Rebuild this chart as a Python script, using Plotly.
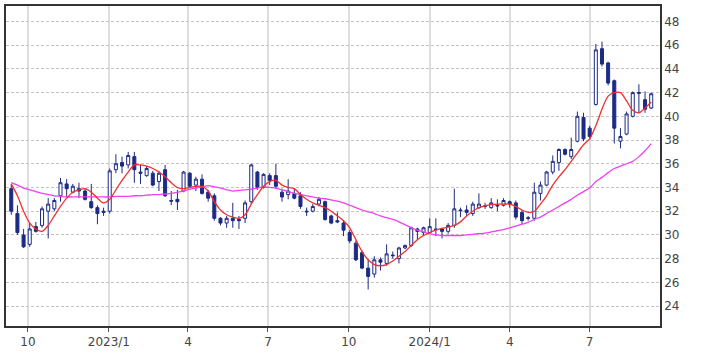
import plotly.graph_objects as go
import pandas as pd

# weekly candles (week start dates)
dates = pd.date_range('2022-09-12', periods=105, freq='7D')

opens = [33.9, 31.8, 30.0, 29.2, 30.7, 30.8, 32.0, 32.2, 33.3, 34.3,
         33.6, 33.9, 33.7, 32.8, 32.3, 32.0, 32.0, 35.5, 36.1, 35.9,
         36.6, 35.3, 35.0, 35.2, 34.5, 35.5, 32.9, 33.0, 33.7, 35.2,
         34.2, 34.7, 33.6, 33.3, 31.4, 31.0, 31.4, 31.3, 31.4, 32.8,
         35.3, 34.0, 35.0, 35.0, 33.6, 33.4, 33.5, 33.3, 32.0, 32.0,
         32.6, 32.8, 31.6, 31.2, 31.0, 30.2, 29.3, 28.5, 27.2, 26.7,
         27.9, 27.6, 28.3, 28.0, 28.9, 29.1, 30.5, 30.2, 30.2, 30.5,
         30.5, 30.3, 30.8, 32.1, 32.1, 31.8, 32.3, 32.45, 32.3, 32.5,
         32.5, 32.8, 32.7, 31.9, 31.45, 31.4, 33.5, 34.2, 35.3, 36.1,
         37.2, 36.6, 37.9, 39.9, 39.0, 41.0, 45.7, 44.5, 43.0, 37.9,
         38.5, 40.0, 42.0, 41.4, 40.7]
highs = [34.3, 32.5, 30.5, 31.0, 31.1, 32.4, 33.1, 33.1, 34.8, 34.7,
         34.3, 34.4, 33.9, 34.3, 32.5, 32.3, 35.6, 36.8, 36.6, 37.0,
         37.0, 35.9, 35.8, 35.4, 35.4, 35.9, 33.7, 33.8, 35.4, 35.3,
         34.9, 35.1, 33.8, 33.5, 31.5, 31.6, 32.7, 31.6, 32.9, 36.0,
         35.4, 35.2, 35.2, 36.0, 33.9, 34.7, 33.9, 33.6, 32.3, 32.6,
         33.2, 32.9, 31.7, 31.9, 31.2, 30.4, 29.5, 28.7, 27.9, 28.2,
         28.1, 29.2, 28.6, 29.0, 29.2, 30.7, 30.6, 30.7, 31.4, 31.4,
         30.6, 31.0, 33.9, 32.3, 32.5, 32.8, 33.5, 32.7, 33.1, 33.0,
         33.1, 32.9, 32.9, 32.1, 31.6, 34.4, 34.5, 35.4, 36.7, 37.3,
         37.3, 38.2, 40.4, 40.3, 39.2, 46.1, 46.3, 44.6, 43.1, 39.0,
         40.4, 42.1, 42.7, 42.1, 42.0]
lows = [31.7, 30.0, 28.9, 29.0, 30.2, 30.6, 29.7, 32.0, 32.8, 33.2,
        33.5, 33.1, 32.9, 32.2, 30.9, 31.6, 31.8, 35.2, 35.2, 35.6,
        34.4, 34.3, 34.9, 34.1, 33.7, 33.2, 32.5, 32.1, 33.6, 34.0,
        33.7, 33.4, 32.8, 31.2, 30.8, 30.6, 30.6, 30.5, 31.0, 32.6,
        33.8, 33.9, 34.2, 33.9, 32.8, 33.0, 33.0, 32.2, 31.6, 31.9,
        32.4, 31.2, 30.9, 31.0, 29.9, 29.3, 27.8, 27.1, 25.4, 26.4,
        27.0, 27.4, 28.0, 27.6, 28.8, 29.0, 29.6, 29.9, 30.1, 29.9,
        29.7, 30.1, 30.6, 31.5, 31.6, 31.6, 32.2, 32.2, 32.2, 32.0,
        32.4, 32.3, 31.3, 30.9, 31.2, 31.2, 32.9, 34.1, 35.1, 35.4,
        36.7, 36.4, 37.8, 37.9, 38.0, 40.9, 44.2, 42.6, 37.7, 37.3,
        38.4, 39.9, 40.3, 40.3, 40.6]
closes = [32.0, 30.2, 29.0, 30.5, 30.3, 32.2, 32.6, 32.9, 34.4, 33.9,
          34.1, 33.7, 33.0, 32.3, 31.8, 31.9, 35.4, 36.0, 35.8, 36.7,
          35.5, 35.2, 35.6, 34.2, 35.2, 33.3, 32.85, 32.8, 35.3, 34.1,
          34.7, 33.5, 33.1, 31.4, 31.0, 31.4, 31.2, 31.2, 32.7, 35.9,
          34.0, 35.1, 34.6, 34.1, 33.2, 33.7, 33.1, 32.4, 31.95, 32.4,
          33.0, 31.3, 31.0, 31.1, 30.4, 29.5, 27.9, 27.2, 26.5, 27.9,
          27.7, 28.4, 28.25, 28.9, 29.1, 30.6, 30.3, 30.6, 30.7, 30.45,
          30.3, 30.8, 32.2, 32.05, 31.9, 32.6, 32.6, 32.4, 32.7, 32.45,
          32.9, 32.6, 31.5, 31.2, 31.4, 33.6, 34.2, 35.3, 36.2, 37.2,
          36.8, 37.2, 40.0, 38.1, 38.3, 45.6, 44.4, 42.8, 39.0, 38.3,
          40.2, 42.0, 41.95, 40.6, 41.9]

ma_short = [34.3, 33.3, 32.0, 31.0, 30.5, 30.3, 30.8, 31.6, 32.4, 33.1,
            33.6, 33.8, 33.9, 33.6, 33.1, 32.7, 33.0, 33.8, 34.6, 35.3,
            35.9, 35.9, 35.8, 35.6, 35.3, 34.9, 34.4, 34.0, 33.9, 34.0,
            34.1, 34.1, 33.7, 32.8, 32.1, 31.7, 31.5, 31.4, 31.7, 32.6,
            33.4, 34.1, 34.5, 34.6, 34.2, 34.0, 33.9, 33.4, 33.0, 32.7,
            32.5, 32.3, 32.0, 31.6, 31.2, 30.6, 29.6, 28.6, 27.9, 27.5,
            27.4, 27.5, 27.8, 28.2, 28.6, 29.1, 29.6, 29.95, 30.2, 30.4,
            30.55, 30.65, 30.8, 31.1, 31.6, 32.0, 32.3, 32.45, 32.55, 32.6,
            32.6, 32.6, 32.4, 32.1, 31.9, 32.0, 32.6, 33.3, 34.2, 34.9,
            35.5, 36.2, 36.9, 37.6, 38.1, 39.2, 40.6, 41.7, 42.0, 42.0,
            41.3, 40.5, 40.3, 40.7, 41.2]
ma_long = [34.4, 34.2, 33.95, 33.8, 33.65, 33.5, 33.4, 33.3, 33.25, 33.2,
           33.2, 33.2, 33.2, 33.2, 33.2, 33.2, 33.2, 33.25, 33.25, 33.25,
           33.3, 33.3, 33.35, 33.4, 33.4, 33.45, 33.5, 33.6, 33.7, 33.85,
           33.95, 34.05, 34.15, 34.05, 33.95, 33.8, 33.7, 33.75, 33.8, 33.85,
           33.95, 34.05, 34.0, 33.95, 33.8, 33.65, 33.5, 33.4, 33.3, 33.2,
           33.1, 33.05, 32.95, 32.85, 32.7, 32.5, 32.3, 32.1, 31.95, 31.8,
           31.6, 31.45, 31.3, 31.1, 30.85, 30.6, 30.4, 30.25, 30.1, 30.0,
           29.95, 29.95, 29.95, 29.95, 30.0, 30.05, 30.1, 30.15, 30.25, 30.35,
           30.45, 30.6, 30.75, 30.9, 31.05, 31.3, 31.5, 31.8, 32.1, 32.4,
           32.7, 33.0, 33.35, 33.65, 33.95, 34.5, 34.85, 35.25, 35.6, 35.8,
           36.0, 36.2, 36.6, 37.1, 37.7]

tick_dates = ['2022-10-01', '2023-01-01', '2023-04-01', '2023-07-01',
              '2023-10-01', '2024-01-01', '2024-04-01', '2024-07-01']
tick_labels = ['10', '2023/1', '4', '7', '10', '2024/1', '4', '7']
y_ticks = list(range(24, 49, 2))

NAVY = '#1c2b84'

fig = go.Figure()
fig.add_trace(go.Candlestick(
    x=dates, open=opens, high=highs, low=lows, close=closes,
    increasing=dict(fillcolor='white', line=dict(color=NAVY, width=1)),
    decreasing=dict(fillcolor=NAVY, line=dict(color=NAVY, width=1)),
    whiskerwidth=0, showlegend=False, hoverinfo='skip'))
fig.add_trace(go.Scatter(x=dates, y=ma_long, mode='lines',
                         line=dict(color='#f040f0', width=1.3, shape='spline', smoothing=0.8),
                         showlegend=False))
fig.add_trace(go.Scatter(x=dates, y=ma_short, mode='lines',
                         line=dict(color='#f03030', width=1.3, shape='spline', smoothing=0.8),
                         showlegend=False))

fig.update_layout(
    width=709, height=354,
    margin=dict(l=4, r=49, t=5, b=28),
    paper_bgcolor='white', plot_bgcolor='white',
    font=dict(family='DejaVu Sans', size=12, color='#444'),
    showlegend=False,
)
fig.update_xaxes(
    type='date', range=['2022-09-06', '2024-09-19'],
    rangeslider=dict(visible=False),
    tickvals=tick_dates, ticktext=tick_labels,
    showgrid=True, gridcolor='#dedede', gridwidth=1.5,
    showline=True, linecolor='#333', linewidth=1.5, mirror=True,
    ticks='outside', ticklen=4, tickcolor='#555',
    zeroline=False,
)
fig.update_yaxes(
    side='right', range=[22.32, 49.3],
    tickvals=y_ticks, ticktext=[str(v) for v in y_ticks],
    showgrid=True, gridcolor='#c4c4c4', gridwidth=1, griddash='3px,2px',
    showline=True, linecolor='#333', linewidth=1.5, mirror=True,
    ticks='', zeroline=False,
)

fig.write_html('out.html')
